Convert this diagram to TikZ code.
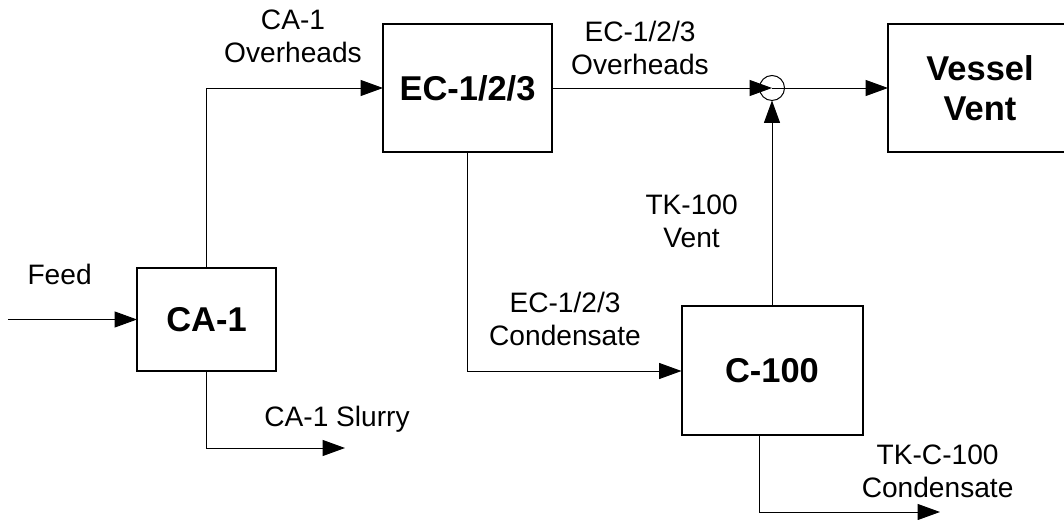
\documentclass[tikz,border=0pt]{standalone}
\usepackage{fontspec}
\setmainfont{Liberation Sans}
\usetikzlibrary{positioning, arrows.meta}

\begin{document}
\begin{tikzpicture}[node distance=1cm, every node/.style={font=\fontsize{20}{23.5}\selectfont},
  box/.style={draw, line width=0.05cm, inner sep=0pt, outer sep=0pt, align=center, font=\fontsize{24.5}{28.5}\selectfont\bfseries},
  junction/.style={draw, circle, line width=0.7pt, minimum size=0.625cm, inner sep=0pt, outer sep=0pt},
  lbl/.style={align=center, inner sep=0pt},
  arrow/.style={-{Triangle[length=0.56cm, width=0.4cm]}, line width=0.7pt}]

\useasboundingbox (0,0) rectangle (26.6,-13);

% Process units
\node[box, minimum width=3.475cm, minimum height=2.575cm] (ca1) at (5.1625,-7.9875) {CA-1};
\node[box, minimum width=4.225cm, minimum height=3.2cm, right=2.675cm of ca1, yshift=5.7875cm] (ec) {EC-1/2/3};
\node[junction, right=5.1875cm of ec] (junc) {};
\node[box, minimum width=4.6cm, minimum height=3.2cm, right=2.5875cm of junc] (vv) {Vessel\\Vent};
\node[box, minimum width=4.525cm, minimum height=3.225cm, below=5.15cm of junc] (c100) {C-100};

% Free ends of streams
\coordinate (feedin) at (0.2,-7.9875);
\coordinate (slurryend) at (8.625,-11.2);
\coordinate (condend) at (23.5,-12.8);

% Stream labels
\node[lbl] (feedlbl) at (1.49,-6.85) {Feed};
\node[lbl] (ca1ovh) at (7.325,-0.9125) {CA-1\\Overheads};
\node[lbl] (ecovh) at (16.0,-1.2) {EC-1/2/3\\Overheads};
\node[lbl] (eccond) at (14.125,-7.9625) {EC-1/2/3\\Condensate};
\node[lbl] (tkvent) at (17.29,-5.525) {TK-100\\Vent};
\node[lbl] (slurry) at (8.425,-10.475) {CA-1 Slurry};
\node[lbl] (tkcond) at (23.44,-11.775) {TK-C-100\\Condensate};

% Streams
\draw[arrow] (feedin) -- (ca1.west);
\draw[arrow] (ca1.north) |- (ec.west);
\draw[arrow] (ca1.south) |- (slurryend);
\draw[arrow] (ec.east) -- (junc.center);
\draw[arrow] (junc.center) -- (vv.west);
\draw[arrow] (junc.south |- c100.north) -- (junc.south);
\draw[arrow] (ec.south) |- (c100.west);
\draw[arrow] ([xshift=-0.3125cm]c100.south) |- (condend);
\end{tikzpicture}
\end{document}
